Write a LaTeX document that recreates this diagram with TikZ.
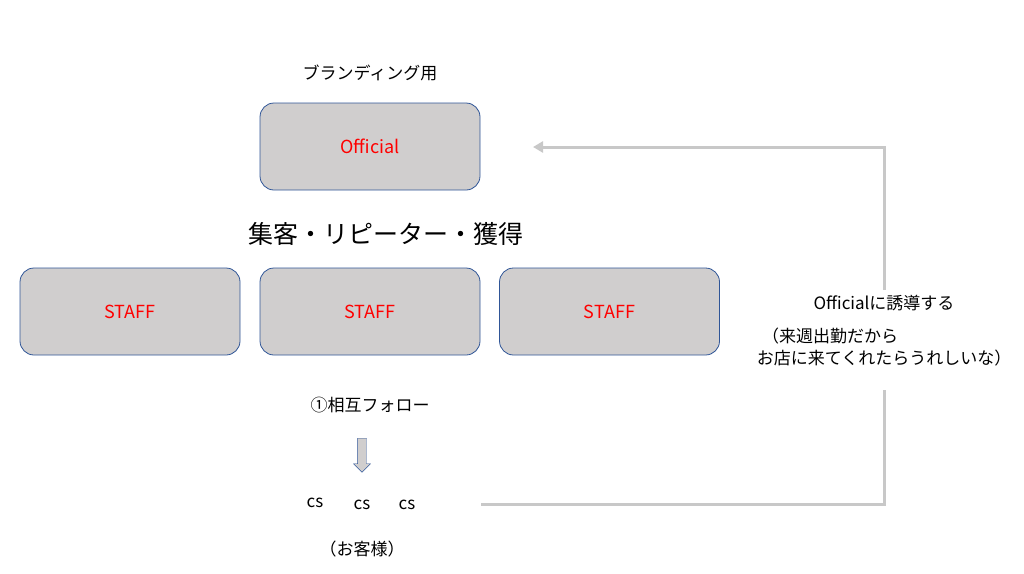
\documentclass[tikz,border=0pt]{standalone}
\usepackage{fontspec}
\setmainfont{Noto Sans CJK JP}
\usetikzlibrary{shapes.arrows,arrows.meta}
\definecolor{boxfill}{HTML}{D0CECE}
\definecolor{boxline}{HTML}{2F5597}
\definecolor{conn}{HTML}{C8C8C8}
\begin{document}
\begin{tikzpicture}[x=1pt,y=-1pt,
  box/.style={draw=boxline,fill=boxfill,rounded corners=14pt,minimum width=220pt,minimum height=87pt,text=red,font=\fontsize{18}{20}\selectfont,line width=0.8pt},
  lbl/.style={font=\fontsize{17}{20}\selectfont},
  line/.style={draw=conn,line width=3pt}]
\useasboundingbox (0,0) rectangle (1024,573);
\node[box] (off) at (370,146.5) {Official};
\node[box] (s1) at (130,311.5) {STAFF};
\node[box] (s2) at (370,311.5) {STAFF};
\node[box] (s3) at (609.5,311.5) {STAFF};
\node[lbl] (brand) at (370,73) {ブランディング用};
\node[font=\fontsize{25}{28}\selectfont] (shu) at (386,234) {集客・リピーター・獲得};
\node[lbl] (follow) at (370,405) {①相互フォロー};
\node[single arrow,shape border rotate=270,draw=boxline,fill=boxfill,minimum height=34pt,minimum width=17pt,single arrow head extend=2pt,inner sep=2pt] (dn) at (362,453) {};
\node[lbl] (cs1) at (315,503) {cs};
\node[lbl] (cs2) at (362,505) {cs};
\node[lbl] (cs3) at (407,505) {cs};
\node[lbl] (kyaku) at (362,549) {（お客様）};
\node[lbl] (t1) at (884,303) {Officialに誘導する};
\node[lbl] (t2) at (830,336) {（来週出勤だから};
\node[lbl] (t3) at (884,358) {お店に来てくれたらうれしいな）};
\coordinate (a) at (481,504);
\coordinate (b) at (884,504);
\coordinate (c) at (884,390);
\coordinate (d) at (884,290);
\coordinate (e) at (884,147);
\coordinate (f) at (533,147);
\draw[line] (a) -- (b) -- (c);
\draw[line,-{Triangle[length=10pt,width=11pt]}] (d) -- (e) -- (f);
\end{tikzpicture}
\end{document}
